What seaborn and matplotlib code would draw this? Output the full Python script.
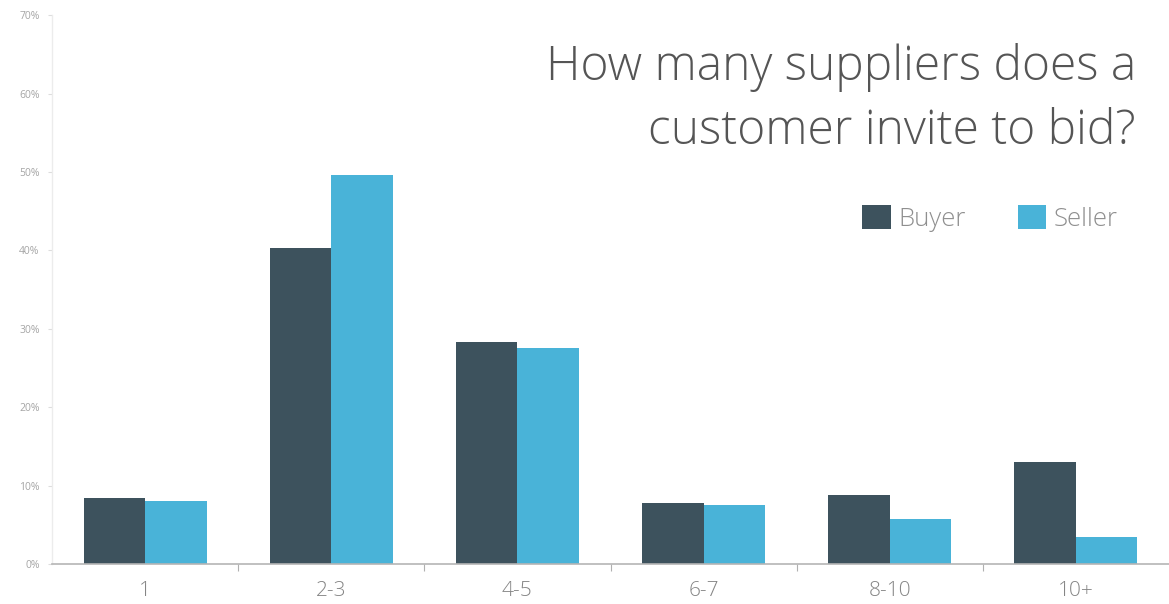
import matplotlib
matplotlib.use("Agg")
import matplotlib.pyplot as plt
import seaborn as sns
import pandas as pd
from matplotlib.patches import Patch

# Survey answers: share of respondents per supplier-count bucket
categories = ["1", "2-3", "4-5", "6-7", "8-10", "10+"]
buyer = [8.4, 40.3, 28.3, 7.8, 8.8, 13.0]
seller = [8.0, 49.6, 27.6, 7.5, 5.7, 3.4]
series_names = ["Buyer", "Seller"]
y_ticks = [0, 10, 20, 30, 40, 50, 60, 70]

colors = {"Buyer": "#3d525d", "Seller": "#49b3d8"}

df = pd.DataFrame({
    "bucket": categories * 2,
    "share": buyer + seller,
    "who": [series_names[0]] * len(categories) + [series_names[1]] * len(categories),
})

sns.set_theme(style="white")
plt.rcParams["font.family"] = ["Open Sans", "DejaVu Sans"]

fig = plt.figure(figsize=(11.69, 6.04), dpi=100)
ax = fig.add_axes([0.0445, 0.0662, 0.9555, 0.9088])

sns.barplot(data=df, x="bucket", y="share", hue="who", order=categories,
            hue_order=series_names, palette=colors, width=0.66, dodge=True,
            saturation=1, linewidth=0, ax=ax, legend=False)

ax.set_xlim(-0.5, len(categories) - 0.5)
ax.set_ylim(0, 70)
ax.set_xlabel("")
ax.set_ylabel("")

ax.set_yticks(y_ticks)
ax.set_yticklabels([f"{t}%" for t in y_ticks])
ax.tick_params(axis="y", labelsize=7.5, labelcolor="#a5a5a5", length=3,
               color="#dddddd", width=0.8, pad=6, left=True)

# Category labels centred, tick marks on group boundaries
ax.set_xticks(range(len(categories)))
ax.set_xticklabels(categories, fontweight=300)
ax.tick_params(axis="x", labelsize=15, labelcolor="#858585", length=0, pad=12)
ax.set_xticks([i + 0.5 for i in range(len(categories) - 1)], minor=True)
ax.tick_params(axis="x", which="minor", length=5, color="#b0b0b0",
               width=0.8, bottom=True)

for side in ["top", "right"]:
    ax.spines[side].set_visible(False)
ax.spines["left"].set_color("#ececec")
ax.spines["left"].set_linewidth(1.0)
ax.spines["bottom"].set_color("#b5b5b5")
ax.spines["bottom"].set_linewidth(1.2)
ax.grid(False)

fig.text(0.9718, 0.928, "How many suppliers does a\ncustomer invite to bid?",
         ha="right", va="top", fontsize=34.5, color="#555555",
         fontweight=300, linespacing=1.42)

handles = [Patch(facecolor=colors[n], edgecolor="none") for n in series_names]
fig.legend(handles, series_names, loc="center right",
           bbox_to_anchor=(0.9564, 0.639), ncol=2, frameon=False,
           borderpad=0, borderaxespad=0,
           prop={"size": 18.5, "weight": 300}, labelcolor="#8f8f8f",
           handlelength=1.1, handleheight=1.1, handletextpad=0.32,
           columnspacing=2.0)

fig.savefig("out.png", dpi=100, facecolor="white")
